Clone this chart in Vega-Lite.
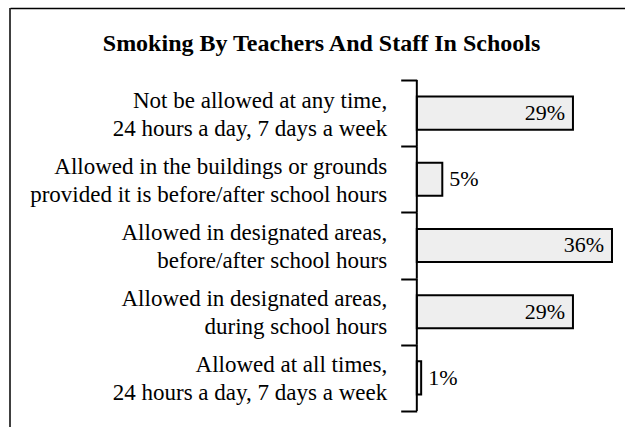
{
  "$schema": "https://vega.github.io/schema/vega-lite/v6.json",
  "width": 615,
  "height": 419,
  "padding": {"left": 10, "top": 8, "right": 0, "bottom": 0},
  "autosize": {"type": "none"},
  "background": "white",
  "title": {
    "text": "Smoking By Teachers And Staff In Schools",
    "font": "Liberation Serif",
    "fontSize": 24,
    "fontWeight": "bold",
    "color": "black",
    "anchor": "middle",
    "frame": "group",
    "baseline": "alphabetic",
    "offset": -78,
    "dx": 4
  },
  "config": {"view": {"stroke": null}},
  "data": {
    "values": [
      {"cat": "Not be allowed at any time,|24 hours a day, 7 days a week", "value": 0.288},
      {"cat": "Allowed in the buildings or grounds|provided it is before/after school hours", "value": 0.047},
      {"cat": "Allowed in designated areas,|before/after school hours", "value": 0.36},
      {"cat": "Allowed in designated areas,|during school hours", "value": 0.288},
      {"cat": "Allowed at all times,|24 hours a day, 7 days a week", "value": 0.008}
    ]
  },
  "encoding": {
    "x": {
      "field": "value", "type": "quantitative",
      "scale": {"domain": [-0.7504, 0.384], "nice": false, "zero": false},
      "axis": {"orient": "top", "domain": true, "domainColor": "black", "domainWidth": 1.5,
               "ticks": false, "labels": false, "grid": false, "title": null}
    },
    "y": {
      "field": "cat", "type": "nominal", "sort": null,
      "scale": {"paddingInner": 0, "paddingOuter": 0.665, "align": 0.818, "round": false},
      "axis": {
        "orient": "left", "offset": -406.7, "domain": false,
        "ticks": true, "tickBand": "extent", "tickSize": 16, "tickWidth": 2, "tickColor": "black",
        "labelFont": "Liberation Serif", "labelFontSize": 23, "labelColor": "black",
        "labelAlign": "right", "labelBaseline": "middle", "labelPadding": 14,
        "labelLineHeight": 28, "labelLimit": 0, "labelOffset": -13,
        "labelExpr": "split(datum.label, '|')", "title": null, "grid": false
      }
    }
  },
  "layer": [
    {
      "mark": {"type": "bar", "fill": "#eeeeee", "stroke": "black", "strokeWidth": 2, "height": {"band": 0.5}}
    },
    {
      "mark": {"type": "rule", "stroke": "black", "strokeWidth": 2},
      "encoding": {
        "x": {"datum": 0, "type": "quantitative"},
        "y": {"field": "cat", "type": "nominal", "sort": null, "bandPosition": 0},
        "y2": {"field": "cat", "bandPosition": 1}
      }
    },
    {
      "transform": [{"filter": "datum.value >= 0.1"}],
      "mark": {"type": "text", "align": "right", "baseline": "middle", "dx": -8, "font": "Liberation Serif", "fontSize": 22, "color": "black"},
      "encoding": {
        "text": {"field": "value", "type": "quantitative", "format": ".0%"}
      }
    },
    {
      "transform": [{"filter": "datum.value < 0.1"}],
      "mark": {"type": "text", "align": "left", "baseline": "middle", "dx": 7, "font": "Liberation Serif", "fontSize": 22, "color": "black"},
      "encoding": {
        "text": {"field": "value", "type": "quantitative", "format": ".0%"}
      }
    },
    {
      "data": {"values": [{"edge": -0.7504}]},
      "mark": {"type": "rule", "stroke": "black", "strokeWidth": 1.5},
      "encoding": {
        "x": {"field": "edge", "type": "quantitative"},
        "y": null
      }
    }
  ]
}
